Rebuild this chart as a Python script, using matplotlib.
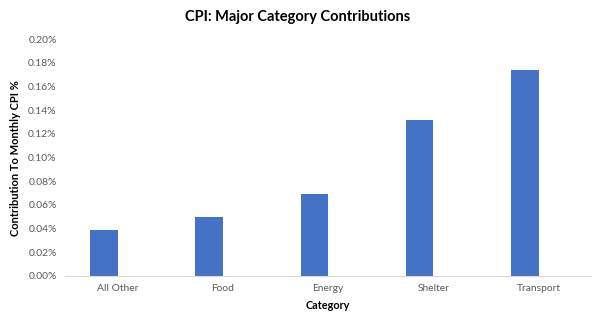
import matplotlib
matplotlib.use('Agg')
import matplotlib.pyplot as plt
from matplotlib.ticker import FuncFormatter
import numpy as np

plt.rcParams['font.family'] = ['Lato', 'DejaVu Sans']

## Data ##
categories = ['All Other', 'Food', 'Energy', 'Shelter', 'Transport']
contrib = [0.039, 0.050, 0.069, 0.132, 0.174]

## Figure ##
fig = plt.figure(figsize=(5.96, 3.25), dpi=100)
ax = fig.add_axes([0.109, 0.151, 0.883, 0.728])

x = np.arange(len(categories))
ax.bar(x - 0.13, contrib, width=0.26, color='#4472C4')

ax.set_xlim(-0.5, len(categories) - 0.5)
ax.set_ylim(0, 0.20)
ax.set_yticks(np.arange(0, 0.201, 0.02))
ax.yaxis.set_major_formatter(FuncFormatter(lambda v, p: '%.2f%%' % v))
ax.set_xticks(x)
ax.set_xticklabels(categories)

for s in ['top', 'right', 'left']:
    ax.spines[s].set_visible(False)
ax.spines['bottom'].set_color('#d9d9d9')
ax.tick_params(axis='both', length=0, labelsize=7.4, labelcolor='#595959', pad=6)

ax.set_xlabel('Category', fontsize=7.8, fontweight='bold', labelpad=5)
ax.set_ylabel('Contribution To Monthly CPI %', fontsize=8, fontweight='bold', labelpad=5)
fig.suptitle('CPI: Major Category Contributions', fontsize=10.5, fontweight='bold', y=0.97)

plt.savefig('out.png', dpi=100)
